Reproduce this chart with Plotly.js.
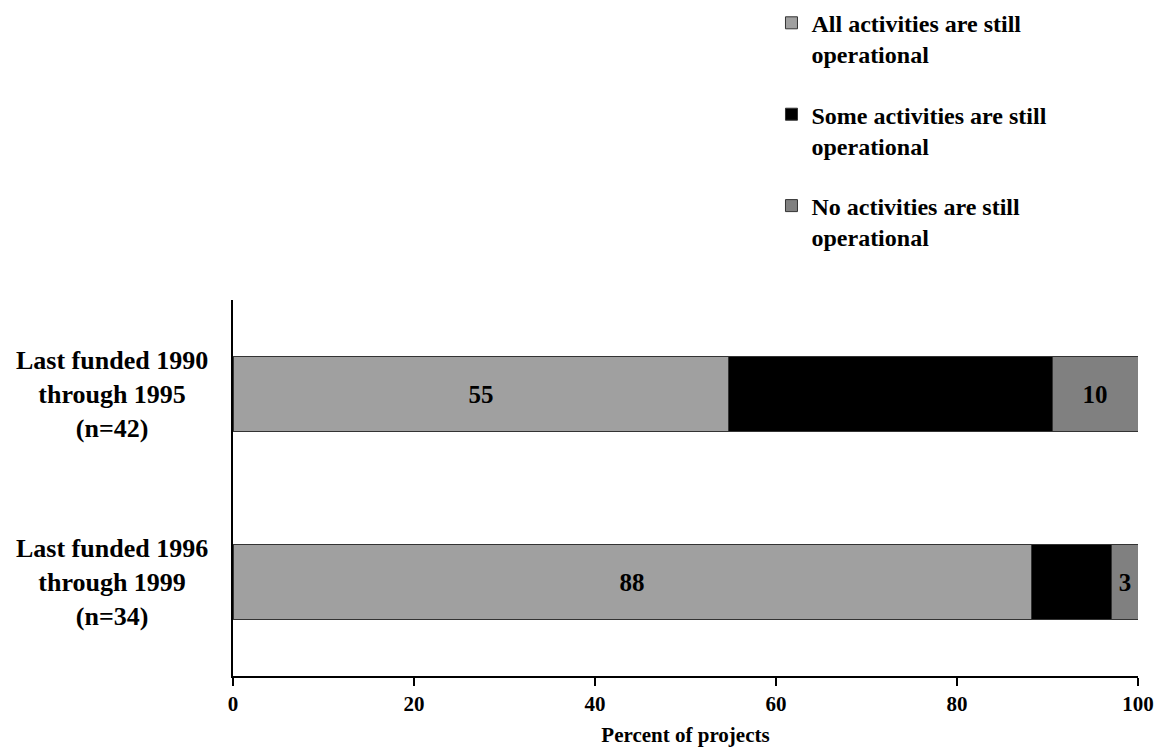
<!DOCTYPE html>
<html>
<head>
<meta charset="utf-8">
<script src="https://cdn.plot.ly/plotly-3.0.1.min.js"></script>
<style>body{margin:0;background:#fff;} #chart{width:1157px;height:754px;}</style>
</head>
<body>
<div id="chart"></div>
<script>
const categories = ["Last funded 1990<br>through 1995<br>(n=42)", "Last funded 1996<br>through 1999<br>(n=34)"];
const seriesNames = ["All activities are still<br>operational", "Some activities are still<br>operational", "No activities are still<br>operational"];
const allOperational = [54.8, 88.2];
const someOperational = [35.7, 8.9];
const noneOperational = [9.5, 2.9];
const xTickVals = [0, 20, 40, 60, 80, 100];
const xTickText = ["0", "20", "40", "60", "80", "100"];

const FONT = "Liberation Serif, Times New Roman, serif";
const outline = {color: "#333333", width: 1};

const traces = [
  {type: "bar", orientation: "h", name: seriesNames[0], y: categories, x: allOperational,
   marker: {color: "#a0a0a0", line: outline}, legendgroup: "a",
   texttemplate: "<b>%{x:.0f}</b>", textposition: "inside", insidetextanchor: "middle",
   textangle: 0, constraintext: "none", textfont: {family: FONT, size: 25, color: "#000"}},
  {type: "bar", orientation: "h", name: seriesNames[1], y: categories, x: someOperational,
   marker: {color: "#000000", line: outline}, legendgroup: "b", textposition: "none"},
  {type: "bar", orientation: "h", name: seriesNames[2], y: categories, x: noneOperational,
   marker: {color: "#808080", line: outline}, legendgroup: "c",
   texttemplate: "<b>%{x:.0f}</b>", textposition: "inside", insidetextanchor: "middle",
   textangle: 0, constraintext: "none", textfont: {family: FONT, size: 25, color: "#000"}}
];
traces.forEach(t => { t.name = "<b>" + t.name + "</b>"; });

const annotations = categories.map(c => ({
  xref: "paper", yref: "y", x: -0.1337, y: c, text: "<b>" + c + "</b>",
  showarrow: false, align: "center", xanchor: "center", yanchor: "middle",
  font: {family: FONT, size: 26, color: "#000"}
}));

const layout = {
  width: 1157, height: 754,
  margin: {l: 233, r: 19, t: 300, b: 78, autoexpand: false},
  paper_bgcolor: "#fff", plot_bgcolor: "#fff",
  barmode: "stack", bargap: 0.6,
  showlegend: true,
  legend: {x: 0.595, xanchor: "left", y: 1.796, yanchor: "top", traceorder: "grouped", valign: "top",
           tracegroupgap: 26, font: {family: FONT, size: 24, color: "#000"}, bgcolor: "rgba(0,0,0,0)",
           itemclick: false},
  xaxis: {range: [0, 100], tickvals: xTickVals, ticktext: xTickText.map(t => "<b>" + t + "</b>"),
          showgrid: false, zeroline: false,
          showline: true, linecolor: "#000", linewidth: 2, ticks: "outside", ticklen: 8, tickwidth: 2,
          tickcolor: "#000", tickfont: {family: FONT, size: 21, color: "#000"},
          title: {text: "<b>Percent of projects</b>", font: {family: FONT, size: 21, color: "#000"}, standoff: 12}},
  yaxis: {autorange: "reversed", showticklabels: false, showgrid: false, zeroline: false,
          showline: true, linecolor: "#000", linewidth: 2, ticks: ""},
  annotations: annotations,
  font: {family: FONT, color: "#000"}
};

Plotly.newPlot("chart", traces, layout, {staticPlot: true, displayModeBar: false});
</script>
</body>
</html>
